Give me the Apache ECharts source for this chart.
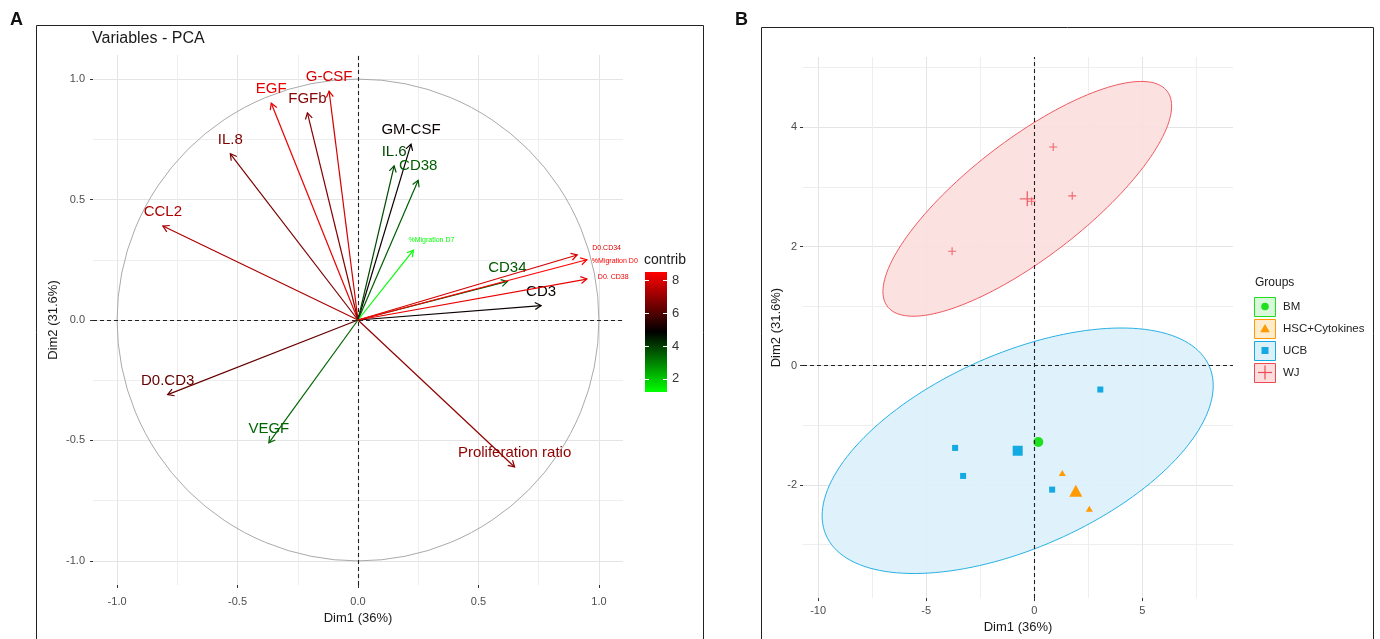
<!DOCTYPE html>
<html>
<head>
<meta charset="utf-8">
<title>PCA variables and individuals</title>
<script src="https://cdn.jsdelivr.net/npm/echarts@6/dist/echarts.min.js"></script>
<style>
  html, body { margin: 0; padding: 0; background: #fff; }
  #main { width: 1380px; height: 639px; }
</style>
</head>
<body>
<div id="main"></div>
<script>
// ---- panel A : variables (coordinates on Dim1 / Dim2, contribution)
var varNames = ['G-CSF', 'EGF', 'FGFb', 'IL.8', 'CCL2', 'D0.CD3', 'VEGF', 'Proliferation ratio',
  'GM-CSF', 'IL.6', 'CD38', '%Migration D7', 'CD34', 'CD3', 'D0.CD34', '%Migration D0', 'D0. CD38'];
var varDim1 = [-0.12, -0.36, -0.21, -0.53, -0.81, -0.79, -0.37, 0.65, 0.22, 0.15, 0.25, 0.23, 0.62, 0.76, 0.91, 0.95, 0.95];
var varDim2 = [0.95, 0.90, 0.86, 0.69, 0.39, -0.31, -0.51, -0.61, 0.73, 0.64, 0.58, 0.29, 0.16, 0.06, 0.27, 0.25, 0.17];
var varContrib = [7.9, 8.2, 6.8, 6.6, 7.3, 6.3, 3.4, 6.9, 5.0, 3.8, 3.5, 1.2, 3.6, 5.0, 7.9, 8.5, 8.2];
var pcaTicks = [-1, -0.5, 0, 0.5, 1];
var pcaMinor = [-0.75, -0.25, 0.25, 0.75];
var contribTicks = [2, 4, 6, 8];

// ---- panel B : individuals
var groupNames = ['BM', 'HSC+Cytokines', 'UCB', 'WJ'];
var bmX = [0.19], bmY = [-1.28];
var hscX = [1.30, 2.55], hscY = [-1.80, -2.40];
var ucbX = [3.06, -3.66, -3.29, 0.83], ucbY = [-0.40, -1.38, -1.85, -2.08];
var wjX = [0.88, 1.76, -3.80, -0.12], wjY = [3.67, 2.85, 1.92, 2.76];
// ellipse: half extent on x, half extent on y, correlation
var ucbEllipse = [9.05, 2.06, 0.53];
var wjEllipse = [6.68, 1.97, 0.79];
var indXTicks = [-10, -5, 0, 5];
var indXMinor = [-7.5, -2.5, 2.5, 7.5];
var indYTicks = [-2, 0, 2, 4];
var indYMinor = [-3, -1, 1, 3, 5];

var FONT = '"Liberation Sans", Arial, sans-serif';
var TICK_TEXT = '#4d4d4d';
var GRID_MAJOR = '#e4e4e4';
var GRID_MINOR = '#eeeeee';
var groupColors = { 'BM': '#1fe01f', 'HSC+Cytokines': '#ff9a00', 'UCB': '#13a9e2', 'WJ': '#ec4a52' };
var groupFills = { 'BM': '#d9f7d9', 'HSC+Cytokines': '#ffeccc', 'UCB': '#dcf0fa', 'WJ': '#fcdede' };
var contribColors = ['#00ff00', '#000000', '#ff0000'];

// small hand placed labels in panel A
var labelTweaks = {
  '%Migration D7': { size: 7, dx: 18, dy: -10, align: 'center' },
  'D0.CD34': { size: 7, dx: 15, dy: -7, align: 'left' },
  '%Migration D0': { size: 7, dx: 5, dy: 1, align: 'left' },
  'D0. CD38': { size: 7, dx: 11, dy: -2, align: 'left' }
};

function mean(a) { var s = 0; for (var i = 0; i < a.length; i++) s += a[i]; return s / a.length; }
function pairs(xs, ys) { return xs.map(function (x, i) { return [x, ys[i]]; }); }

var contribMin = Math.min.apply(null, varContrib);
var contribMax = Math.max.apply(null, varContrib);

function majorAxis(grid, min, max, ticks, margin, name, gap) {
  return {
    type: 'value', gridIndex: grid, min: min, max: max,
    name: name, nameLocation: 'middle', nameGap: gap,
    nameTextStyle: { color: '#1a1a1a', fontSize: 13, fontFamily: FONT },
    axisLine: { show: false, onZero: false },
    axisTick: { show: true, customValues: ticks, length: 3, lineStyle: { color: '#333' } },
    axisLabel: { show: true, customValues: ticks, margin: margin, color: TICK_TEXT, fontSize: 11, fontFamily: FONT },
    splitLine: { show: true, lineStyle: { color: GRID_MAJOR, width: 1 } }
  };
}
function minorAxis(grid, min, max, ticks) {
  return {
    type: 'value', gridIndex: grid, min: min, max: max,
    axisLine: { show: false, onZero: false },
    axisTick: { show: false, customValues: ticks },
    axisLabel: { show: false },
    splitLine: { show: true, lineStyle: { color: GRID_MINOR, width: 1 } }
  };
}

var xA = majorAxis(0, -1.1, 1.1, pcaTicks, 11, 'Dim1 (36%)', 25);
var yA = majorAxis(0, -1.1, 1.1, pcaTicks, 8, 'Dim2 (31.6%)', 33);
xA.axisLabel.formatter = function (v) { return v.toFixed(1); };
yA.axisLabel.formatter = function (v) { return v.toFixed(1); };
var xB = majorAxis(1, -10.7, 9.2, indXTicks, 7, 'Dim1 (36%)', 21);
var yB = majorAxis(1, -3.9, 5.18, indYTicks, 6, 'Dim2 (31.6%)', 19);

function renderArrow(params, api) {
  var o = api.coord([0, 0]);
  var p = api.coord([api.value(0), api.value(1)]);
  var color = api.visual('color');
  var ang = Math.atan2(p[1] - o[1], p[0] - o[0]);
  var h = 7, w = Math.PI / 6;
  var name = varNames[params.dataIndex];
  var tw = labelTweaks[name] || {};
  return {
    type: 'group',
    children: [
      { type: 'line', shape: { x1: o[0], y1: o[1], x2: p[0], y2: p[1] }, style: { stroke: color, lineWidth: 1.2 } },
      { type: 'polyline', shape: { points: [
          [p[0] - h * Math.cos(ang - w), p[1] - h * Math.sin(ang - w)], p,
          [p[0] - h * Math.cos(ang + w), p[1] - h * Math.sin(ang + w)]] },
        style: { stroke: color, fill: null, lineWidth: 1.2 } },
      { type: 'text', x: p[0] + (tw.dx || 0), y: p[1] + (tw.dy == null ? -14 : tw.dy),
        style: { text: name, fill: color, fontSize: tw.size || 15, fontFamily: FONT,
          align: tw.align || 'center', verticalAlign: 'middle' } }
    ]
  };
}

function renderCircle(params, api) {
  var c = api.coord([api.value(0), api.value(1)]);
  var r = api.size([api.value(2), 0])[0];
  return { type: 'circle', shape: { cx: c[0], cy: c[1], r: r }, style: { fill: 'none', stroke: '#aaaaaa', lineWidth: 1 } };
}

var ellipseGroups = ['UCB', 'WJ'];
function renderEllipse(params, api) {
  var cx = api.value(0), cy = api.value(1), sx = api.value(2), sy = api.value(3), rho = api.value(4);
  var pts = [];
  for (var k = 0; k < 160; k++) {
    var t = 2 * Math.PI * k / 160;
    pts.push(api.coord([cx + sx * Math.cos(t),
      cy + rho * sy * Math.cos(t) + sy * Math.sqrt(1 - rho * rho) * Math.sin(t)]));
  }
  var g = ellipseGroups[params.dataIndex];
  return { type: 'polygon', shape: { points: pts },
    style: { fill: groupFills[g], stroke: groupColors[g], lineWidth: 1, opacity: 0.9 } };
}

function renderColorbar(params, api) {
  var p0 = api.coord([0, api.value(0)]);
  var p1 = api.coord([1, api.value(1)]);
  return { type: 'rect', shape: { x: p0[0], y: p1[1], width: p1[0] - p0[0], height: p0[1] - p1[1] },
    style: { fill: new echarts.graphic.LinearGradient(0, 1, 0, 0, [
      { offset: 0, color: contribColors[0] }, { offset: 0.5, color: contribColors[1] }, { offset: 1, color: contribColors[2] }]) } };
}

function zeroLines(xi, yi) {
  return {
    type: 'line', xAxisIndex: xi, yAxisIndex: yi, data: [], silent: true,
    markLine: { silent: true, symbol: ['none', 'none'], label: { show: false },
      lineStyle: { type: [4, 3], color: '#222', width: 1.1 },
      data: [{ xAxis: 0 }, { yAxis: 0 }] }
  };
}

var PLUS = 'path://M0,5L10,5M5,0L5,10';
function points(name, data, symbol, size, isMean) {
  var c = groupColors[name];
  var s = { type: 'scatter', name: name, xAxisIndex: 2, yAxisIndex: 2, data: data, symbol: symbol,
    symbolSize: size, silent: true, itemStyle: { color: c, opacity: 1 } };
  if (symbol === PLUS) s.itemStyle = { color: 'none', borderColor: c, borderWidth: isMean ? 1.4 : 1.1 };
  return s;
}

// legend keys for panel B
var graphics = [
  { type: 'rect', shape: { x: 36.5, y: 25.5, width: 667, height: 640 }, style: { fill: 'none', stroke: '#222', lineWidth: 1 } },
  { type: 'rect', shape: { x: 761.5, y: 27.5, width: 612, height: 640 }, style: { fill: 'none', stroke: '#222', lineWidth: 1 } },
  { type: 'text', x: 10, y: 11, style: { text: 'A', fontSize: 18, fontWeight: 'bold', fontFamily: '"Liberation Sans Narrow", ' + FONT, fill: '#111' } },
  { type: 'text', x: 735, y: 11, style: { text: 'B', fontSize: 18, fontWeight: 'bold', fontFamily: '"Liberation Sans Narrow", ' + FONT, fill: '#111' } }
];
groupNames.forEach(function (g, i) {
  var y = 297 + i * 22, cx = 1265, cy = y + 9.5, c = groupColors[g];
  graphics.push({ type: 'rect', shape: { x: 1254.5, y: y + 0.5, width: 21, height: 19 }, style: { fill: groupFills[g], stroke: c, lineWidth: 1 } });
  if (g === 'BM') graphics.push({ type: 'circle', shape: { cx: cx, cy: cy, r: 3.8 }, style: { fill: c } });
  if (g === 'HSC+Cytokines') graphics.push({ type: 'polygon', shape: { points: [[cx, cy - 4.5], [cx + 4.8, cy + 3.8], [cx - 4.8, cy + 3.8]] }, style: { fill: c } });
  if (g === 'UCB') graphics.push({ type: 'rect', shape: { x: cx - 3.5, y: cy - 3.5, width: 7, height: 7 }, style: { fill: c } });
  if (g === 'WJ') graphics.push({ type: 'polyline', shape: { points: [[cx - 7, cy], [cx + 7, cy]] }, style: { stroke: c, lineWidth: 1.2 } },
    { type: 'polyline', shape: { points: [[cx, cy - 7], [cx, cy + 7]] }, style: { stroke: c, lineWidth: 1.2 } });
  graphics.push({ type: 'text', x: 1283, y: cy, style: { text: g, fontSize: 11.5, fontFamily: FONT, fill: '#222', verticalAlign: 'middle' } });
});

var myChart = echarts.init(document.getElementById('main'));
var option = {
  animation: false,
  backgroundColor: '#fff',
  title: [
    { text: 'Variables - PCA', left: 92, top: 31, padding: 0, textStyle: { fontSize: 16, fontWeight: 'normal', color: '#1a1a1a', fontFamily: FONT } },
    { text: 'contrib', left: 644, top: 253, padding: 0, textStyle: { fontSize: 14, fontWeight: 'normal', color: '#1a1a1a', fontFamily: FONT } },
    { text: 'Groups', left: 1255, top: 277, padding: 0, textStyle: { fontSize: 12, fontWeight: 'normal', color: '#1a1a1a', fontFamily: FONT } }
  ],
  grid: [
    { left: 93, right: 757, top: 55, bottom: 54 },
    { left: 803, right: 147, top: 57, bottom: 37 },
    { left: 645, width: 22, top: 272, height: 120 }
  ],
  xAxis: [
    xA, minorAxis(0, -1.1, 1.1, pcaMinor),
    xB, minorAxis(1, -10.7, 9.2, indXMinor),
    { type: 'value', gridIndex: 2, min: 0, max: 1, show: false }
  ],
  yAxis: [
    yA, minorAxis(0, -1.1, 1.1, pcaMinor),
    yB, minorAxis(1, -3.9, 5.18, indYMinor),
    { type: 'value', gridIndex: 2, min: contribMin, max: contribMax, position: 'right', z: 10,
      axisLine: { show: false, onZero: false }, splitLine: { show: false },
      axisTick: { show: true, inside: true, length: 4, customValues: contribTicks, lineStyle: { color: '#fff' } },
      axisLabel: { show: true, customValues: contribTicks, margin: 5, color: '#333', fontSize: 13, fontFamily: FONT } },
    { type: 'value', gridIndex: 2, min: contribMin, max: contribMax, position: 'left', z: 10,
      axisLine: { show: false, onZero: false }, splitLine: { show: false }, axisLabel: { show: false },
      axisTick: { show: true, inside: true, length: 4, customValues: contribTicks, lineStyle: { color: '#fff' } } }
  ],
  visualMap: {
    type: 'continuous', show: false, seriesIndex: 2, dimension: 2,
    min: contribMin, max: contribMax, inRange: { color: contribColors }
  },
  series: [
    zeroLines(0, 0),
    { type: 'custom', xAxisIndex: 0, yAxisIndex: 0, silent: true, renderItem: renderCircle, data: [[0, 0, 1]] },
    { type: 'custom', xAxisIndex: 0, yAxisIndex: 0, silent: true, renderItem: renderArrow, clip: false,
      encode: { x: 0, y: 1 },
      data: varNames.map(function (n, i) { return [varDim1[i], varDim2[i], varContrib[i]]; }) },
    { type: 'custom', xAxisIndex: 4, yAxisIndex: 4, silent: true, renderItem: renderColorbar, data: [[contribMin, contribMax]] },
    { type: 'custom', xAxisIndex: 2, yAxisIndex: 2, silent: true, renderItem: renderEllipse, data: [
      [mean(ucbX), mean(ucbY)].concat(ucbEllipse),
      [mean(wjX), mean(wjY)].concat(wjEllipse)] },
    zeroLines(2, 2),
    points('UCB', pairs(ucbX, ucbY), 'rect', 6),
    points('UCB', [[mean(ucbX), mean(ucbY)]], 'rect', 10, true),
    points('HSC+Cytokines', pairs(hscX, hscY), 'triangle', [7, 6]),
    points('HSC+Cytokines', [[mean(hscX), mean(hscY)]], 'triangle', [13, 12], true),
    points('BM', pairs(bmX, bmY), 'circle', 6),
    points('BM', [[mean(bmX), mean(bmY)]], 'circle', 10, true),
    points('WJ', pairs(wjX, wjY), PLUS, 8),
    points('WJ', [[mean(wjX), mean(wjY)]], PLUS, 15, true)
  ],
  graphic: graphics
};
myChart.setOption(option);
</script>
</body>
</html>
